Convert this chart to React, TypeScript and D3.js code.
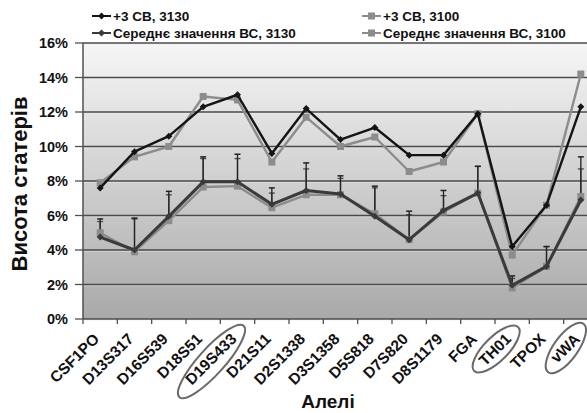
import React from "react";
import * as d3 from "d3";

const categories = ["CSF1PO","D13S317","D16S539","D18S51","D19S433","D21S11","D2S1338","D3S1358","D5S818","D7S820","D8S1179","FGA","TH01","TPOX","vWA"];
const sd3_3130 = [7.6,9.7,10.6,12.3,13.0,9.6,12.2,10.4,11.1,9.5,9.5,11.9,4.2,6.6,12.3];
const sd3_3100 = [7.9,9.4,10.0,12.9,12.7,9.1,11.7,10.0,10.55,8.55,9.1,11.9,3.7,6.6,14.2];
const mean_3130 = [4.75,4.0,5.95,7.95,7.95,6.65,7.45,7.25,5.95,4.6,6.3,7.3,1.95,3.05,6.9];
const mean_3100 = [5.0,3.9,5.7,7.65,7.7,6.45,7.2,7.2,6.1,4.6,6.2,7.3,1.8,3.05,7.1];
const err_3130 = [5.8,5.85,7.4,9.4,9.55,7.6,9.05,8.3,7.7,6.25,7.45,8.85,2.5,4.2,9.4];
const err_3100 = [5.65,5.8,7.2,9.3,9.3,7.3,8.7,8.15,7.6,6.05,7.15,8.85,2.35,4.2,8.7];
const yTicks = [0,2,4,6,8,10,12,14,16];
const circled = ["D19S433","TH01","vWA"];
const legendLabels = ["+3 СВ, 3130","+3 СВ, 3100","Середнє значення ВС, 3130","Середнє значення ВС, 3100"];

const W = 587, H = 413;
const L = 83, R = 598, T = 43, B = 319;
const font = "Arial, 'Liberation Sans', sans-serif";

export default function App() {
  const x = d3.scaleBand().domain(categories).range([L, R]);
  const y = d3.scaleLinear().domain([0, 16]).range([B, T]);
  const cx = (c: string) => (x(c) as number) + x.bandwidth() / 2;
  const line = d3.line<number>().x((_, i) => cx(categories[i])).y((v) => y(v));

  const series = [
    { data: sd3_3130, color: "#141414", width: 2.4, marker: "diamond" },
    { data: sd3_3100, color: "#8c8c8c", width: 2.4, marker: "square" },
    { data: mean_3130, color: "#3a3a3a", width: 3, marker: "diamond" },
    { data: mean_3100, color: "#8c8c8c", width: 2.4, marker: "square" },
  ];

  const marker = (m: string, px: number, py: number, color: string, key: any) =>
    m === "square" ? (
      <rect key={key} x={px - 3.5} y={py - 3.5} width={7} height={7} fill={color} />
    ) : (
      <path key={key} d={`M${px},${py - 3.5}L${px + 3.5},${py}L${px},${py + 3.5}L${px - 3.5},${py}Z`} fill={color} />
    );

  const ellipses: Record<string, { dx: number; dy: number; rx: number; ry: number; a: number }> = {
    D19S433: { dx: -26, dy: 361.5, rx: 48, ry: 13, a: -48 },
    TH01: { dx: -16, dy: 349, rx: 31, ry: 12, a: -45 },
    vWA: { dx: -15, dy: 348, rx: 30, ry: 12, a: -54 },
  };

  return (
    <svg width={W} height={H} style={{ position: "absolute", left: 0, top: 0, background: "#fff" }} fontFamily={font}>
      <defs>
        <linearGradient id="bg" x1="0" y1="0" x2="0" y2="1">
          <stop offset="0" stopColor="#f6f6f6" />
          <stop offset="1" stopColor="#a9a9a9" />
        </linearGradient>
      </defs>
      <rect x={L} y={T} width={R - L} height={B - T} fill="url(#bg)" />
      {yTicks.map((t) => (
        <g key={t}>
          <line x1={L} x2={R} y1={y(t) + 1.2} y2={y(t) + 1.2} stroke="#f0f0f0" strokeWidth={1} opacity={0.6} />
          <line x1={L} x2={R} y1={y(t)} y2={y(t)} stroke="#4a4a4a" strokeWidth={1.6} />
          <line x1={75} x2={L} y1={y(t)} y2={y(t)} stroke="#505050" strokeWidth={1.3} />
          <text x={68} y={y(t)} dy="0.36em" textAnchor="end" fontSize={14.5} fontWeight="bold" fill="#111">{t}%</text>
        </g>
      ))}
      <line x1={L} x2={L} y1={T} y2={B} stroke="#505050" strokeWidth={1.5} />
      {categories.map((c, i) => (
        <line key={"t" + i} x1={x(c) as number} x2={x(c) as number} y1={B} y2={B + 5} stroke="#505050" strokeWidth={1.3} />
      ))}
      {categories.map((c, i) => (
        <g key={"e" + i}>
          <line x1={cx(c)} x2={cx(c)} y1={y(mean_3100[i])} y2={y(err_3100[i])} stroke="#4a4a4a" strokeWidth={1.3} />
          <line x1={cx(c) - 3} x2={cx(c) + 3} y1={y(err_3100[i])} y2={y(err_3100[i])} stroke="#4a4a4a" strokeWidth={1.3} />
          <line x1={cx(c)} x2={cx(c)} y1={y(mean_3130[i])} y2={y(err_3130[i])} stroke="#222" strokeWidth={1.3} />
          <line x1={cx(c) - 3} x2={cx(c) + 3} y1={y(err_3130[i])} y2={y(err_3130[i])} stroke="#222" strokeWidth={1.5} />
        </g>
      ))}
      {[3, 1, 2, 0].map((si) => {
        const s = series[si];
        return (
          <g key={"s" + si}>
            <path d={line(s.data) as string} fill="none" stroke={s.color} strokeWidth={s.width} strokeLinejoin="round" />
            {s.data.map((v, i) => marker(s.marker, cx(categories[i]), y(v), s.color, i))}
          </g>
        );
      })}
      {categories.map((c) => {
        const px = cx(c), py = 340;
        return (
          <text key={"l" + c} transform={`translate(${px},${py}) rotate(-45)`} textAnchor="end" fontSize={15.5} fontWeight="bold" fill="#111">{c}</text>
        );
      })}
      {circled.map((c) => {
        const e = ellipses[c];
        const ex = cx(c) + e.dx, ey = e.dy;
        return (
          <ellipse key={"o" + c} cx={0} cy={0} rx={e.rx} ry={e.ry} transform={`translate(${ex},${ey}) rotate(${e.a})`} fill="none" stroke="#6a6a6a" strokeWidth={2} />
        );
      })}
      <text x={328} y={408} textAnchor="middle" fontSize={19} fontWeight="bold" fill="#111">Алелі</text>
      <text transform="translate(27,184) rotate(-90)" textAnchor="middle" fontSize={22} fontWeight="bold" fill="#111">Висота статерів</text>
      {legendLabels.map((lab, i) => {
        const col = i % 2, row = Math.floor(i / 2);
        const lx = col === 0 ? 92 : 362;
        const ly = row === 0 ? 16 : 33;
        const s = series[i];
        return (
          <g key={"lg" + i}>
            <line x1={lx} x2={lx + 19} y1={ly} y2={ly} stroke={s.color} strokeWidth={2} />
            {marker(s.marker, lx + 9.5, ly, s.color, "m")}
            <text x={lx + 21} y={ly} dy="0.36em" fontSize={13.5} fontWeight="bold" fill="#111">{lab}</text>
          </g>
        );
      })}
    </svg>
  );
}
